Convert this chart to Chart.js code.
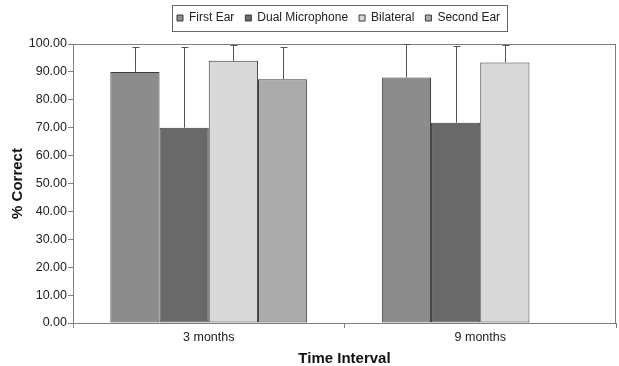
<!DOCTYPE html>
<html>
<head>
<meta charset="utf-8">
<script src="https://cdn.jsdelivr.net/npm/chart.js@4/dist/chart.umd.min.js"></script>
<style>
  html, body { margin: 0; padding: 0; background: #fff; }
  #wrap { width: 619px; height: 366px; }
</style>
</head>
<body>
<div id="wrap"><canvas id="c" width="619" height="366"></canvas></div>
<script>
// Time intervals
const categories = ['3 months', '9 months'];

// Mean % correct per condition
const firstEar   = [90.0, 88.0];
const dualMic    = [70.0, 71.8];
const bilateral  = [94.0, 93.4];
const secondEar  = [87.4, null];

// Upper error (SD) per condition
const firstEarErr  = [9.0, 12.0];
const dualMicErr   = [29.0, 27.4];
const bilateralErr = [5.6, 6.3];
const secondEarErr = [11.6, null];

// Y-axis tick values
const yTicks = [0, 10, 20, 30, 40, 50, 60, 70, 80, 90, 100];

const FONT = 'Arial, "Liberation Sans", sans-serif';

// Upward-only error bars with a small cap
const errorBars = {
  id: 'errorBars',
  afterDatasetsDraw(chart) {
    const ctx = chart.ctx;
    const y = chart.scales.y;
    ctx.save();
    ctx.strokeStyle = '#555';
    ctx.lineWidth = 1;
    chart.data.datasets.forEach((ds, di) => {
      const meta = chart.getDatasetMeta(di);
      meta.data.forEach((bar, i) => {
        const v = ds.data[i];
        const e = ds.err[i];
        if (v == null || e == null) return;
        const x = Math.round(bar.x) + 0.5;
        const yTop = Math.round(y.getPixelForValue(v + e)) + 0.5;
        const yBase = y.getPixelForValue(v);
        ctx.beginPath();
        ctx.moveTo(x, yBase);
        ctx.lineTo(x, yTop);
        ctx.moveTo(x - 3, yTop);
        ctx.lineTo(x + 4, yTop);
        ctx.stroke();
      });
    });
    ctx.restore();
  }
};

// Legend placement, plot-area frame and legend frame
const frames = {
  id: 'frames',
  beforeLayout(chart) {
    const lg = chart.legend;
    if (lg && !lg._fixedFit) {
      const fit = lg.fit.bind(lg);
      lg.fit = function () { fit(); this.height = 44; };
      lg._fixedFit = true;
    }
  },
  afterUpdate(chart) {
    const lg = chart.legend;
    if (!lg || !lg.legendHitBoxes || !lg.legendHitBoxes.length) return;
    const dx = 177 - lg.legendHitBoxes[0].left;
    lg.left += dx;
    lg.right += dx;
    lg.top += 1;
    lg.bottom += 1;
    lg.adjustHitBoxes();
  },
  beforeDatasetsDraw(chart) {
    const {ctx, chartArea: a} = chart;
    ctx.save();
    ctx.strokeStyle = '#808080';
    ctx.lineWidth = 1;
    ctx.strokeRect(Math.round(a.left) + 0.5, Math.round(a.top) + 0.5,
                   Math.round(a.right - a.left) - 1, Math.round(a.bottom - a.top));
    ctx.restore();
  },
  afterDraw(chart) {
    const lg = chart.legend;
    if (!lg || !lg.legendHitBoxes || !lg.legendHitBoxes.length) return;
    const boxes = lg.legendHitBoxes;
    const x0 = boxes[0].left - 5;
    const last = boxes[boxes.length - 1];
    const x1 = last.left + last.width + 7;
    const ctx = chart.ctx;
    ctx.save();
    ctx.strokeStyle = '#666';
    ctx.lineWidth = 1;
    ctx.strokeRect(Math.round(x0) + 0.5, 5.5, Math.round(x1 - x0), 26);
    ctx.restore();
  }
};

new Chart(document.getElementById('c'), {
  type: 'bar',
  data: {
    labels: categories,
    datasets: [
      { label: 'First Ear', data: firstEar, err: firstEarErr, backgroundColor: '#8c8c8c' },
      { label: 'Dual Microphone', data: dualMic, err: dualMicErr, backgroundColor: '#696969' },
      { label: 'Bilateral', data: bilateral, err: bilateralErr, backgroundColor: '#d9d9d9' },
      { label: 'Second Ear', data: secondEar, err: secondEarErr, backgroundColor: '#ababab' }
    ].map(d => Object.assign(d, {
      borderColor: '#3a3a3a',
      borderWidth: 1,
      borderSkipped: false,
      barPercentage: 1.0,
      categoryPercentage: 0.725
    }))
  },
  options: {
    responsive: false,
    animation: false,
    layout: { padding: { left: 0, right: 3, top: 0, bottom: 0 } },
    plugins: {
      legend: {
        display: true,
        position: 'top',
        labels: {
          color: '#222',
          font: { family: FONT, size: 12 },
          boxWidth: 6,
          boxHeight: 6,
          padding: 11
        }
      },
      tooltip: { enabled: false }
    },
    scales: {
      x: {
        grid: {
          offset: true,
          drawOnChartArea: false,
          drawTicks: true,
          tickLength: 5,
          color: '#808080'
        },
        border: { color: '#808080' },
        ticks: { color: '#222', font: { family: FONT, size: 12.5 }, padding: 2 },
        title: {
          display: true,
          text: 'Time Interval',
          color: '#111',
          font: { family: FONT, size: 15, weight: 'bold' },
          padding: { top: 2, bottom: -2 }
        },
        afterFit(s) { s.height = 43; }
      },
      y: {
        min: 0,
        max: 100,
        afterBuildTicks(s) { s.ticks = yTicks.map(v => ({ value: v })); },
        grid: {
          drawOnChartArea: false,
          drawTicks: true,
          tickLength: 5,
          color: '#808080'
        },
        border: { color: '#808080' },
        ticks: {
          color: '#222',
          font: { family: FONT, size: 12.5 },
          padding: 1,
          callback: v => Number(v).toFixed(2)
        },
        title: {
          display: true,
          text: '% Correct',
          color: '#111',
          font: { family: FONT, size: 15, weight: 'bold' },
          padding: { top: 9, bottom: 4 }
        },
        afterFit(s) { s.width = 73; }
      }
    }
  },
  plugins: [errorBars, frames]
});
</script>
</body>
</html>
